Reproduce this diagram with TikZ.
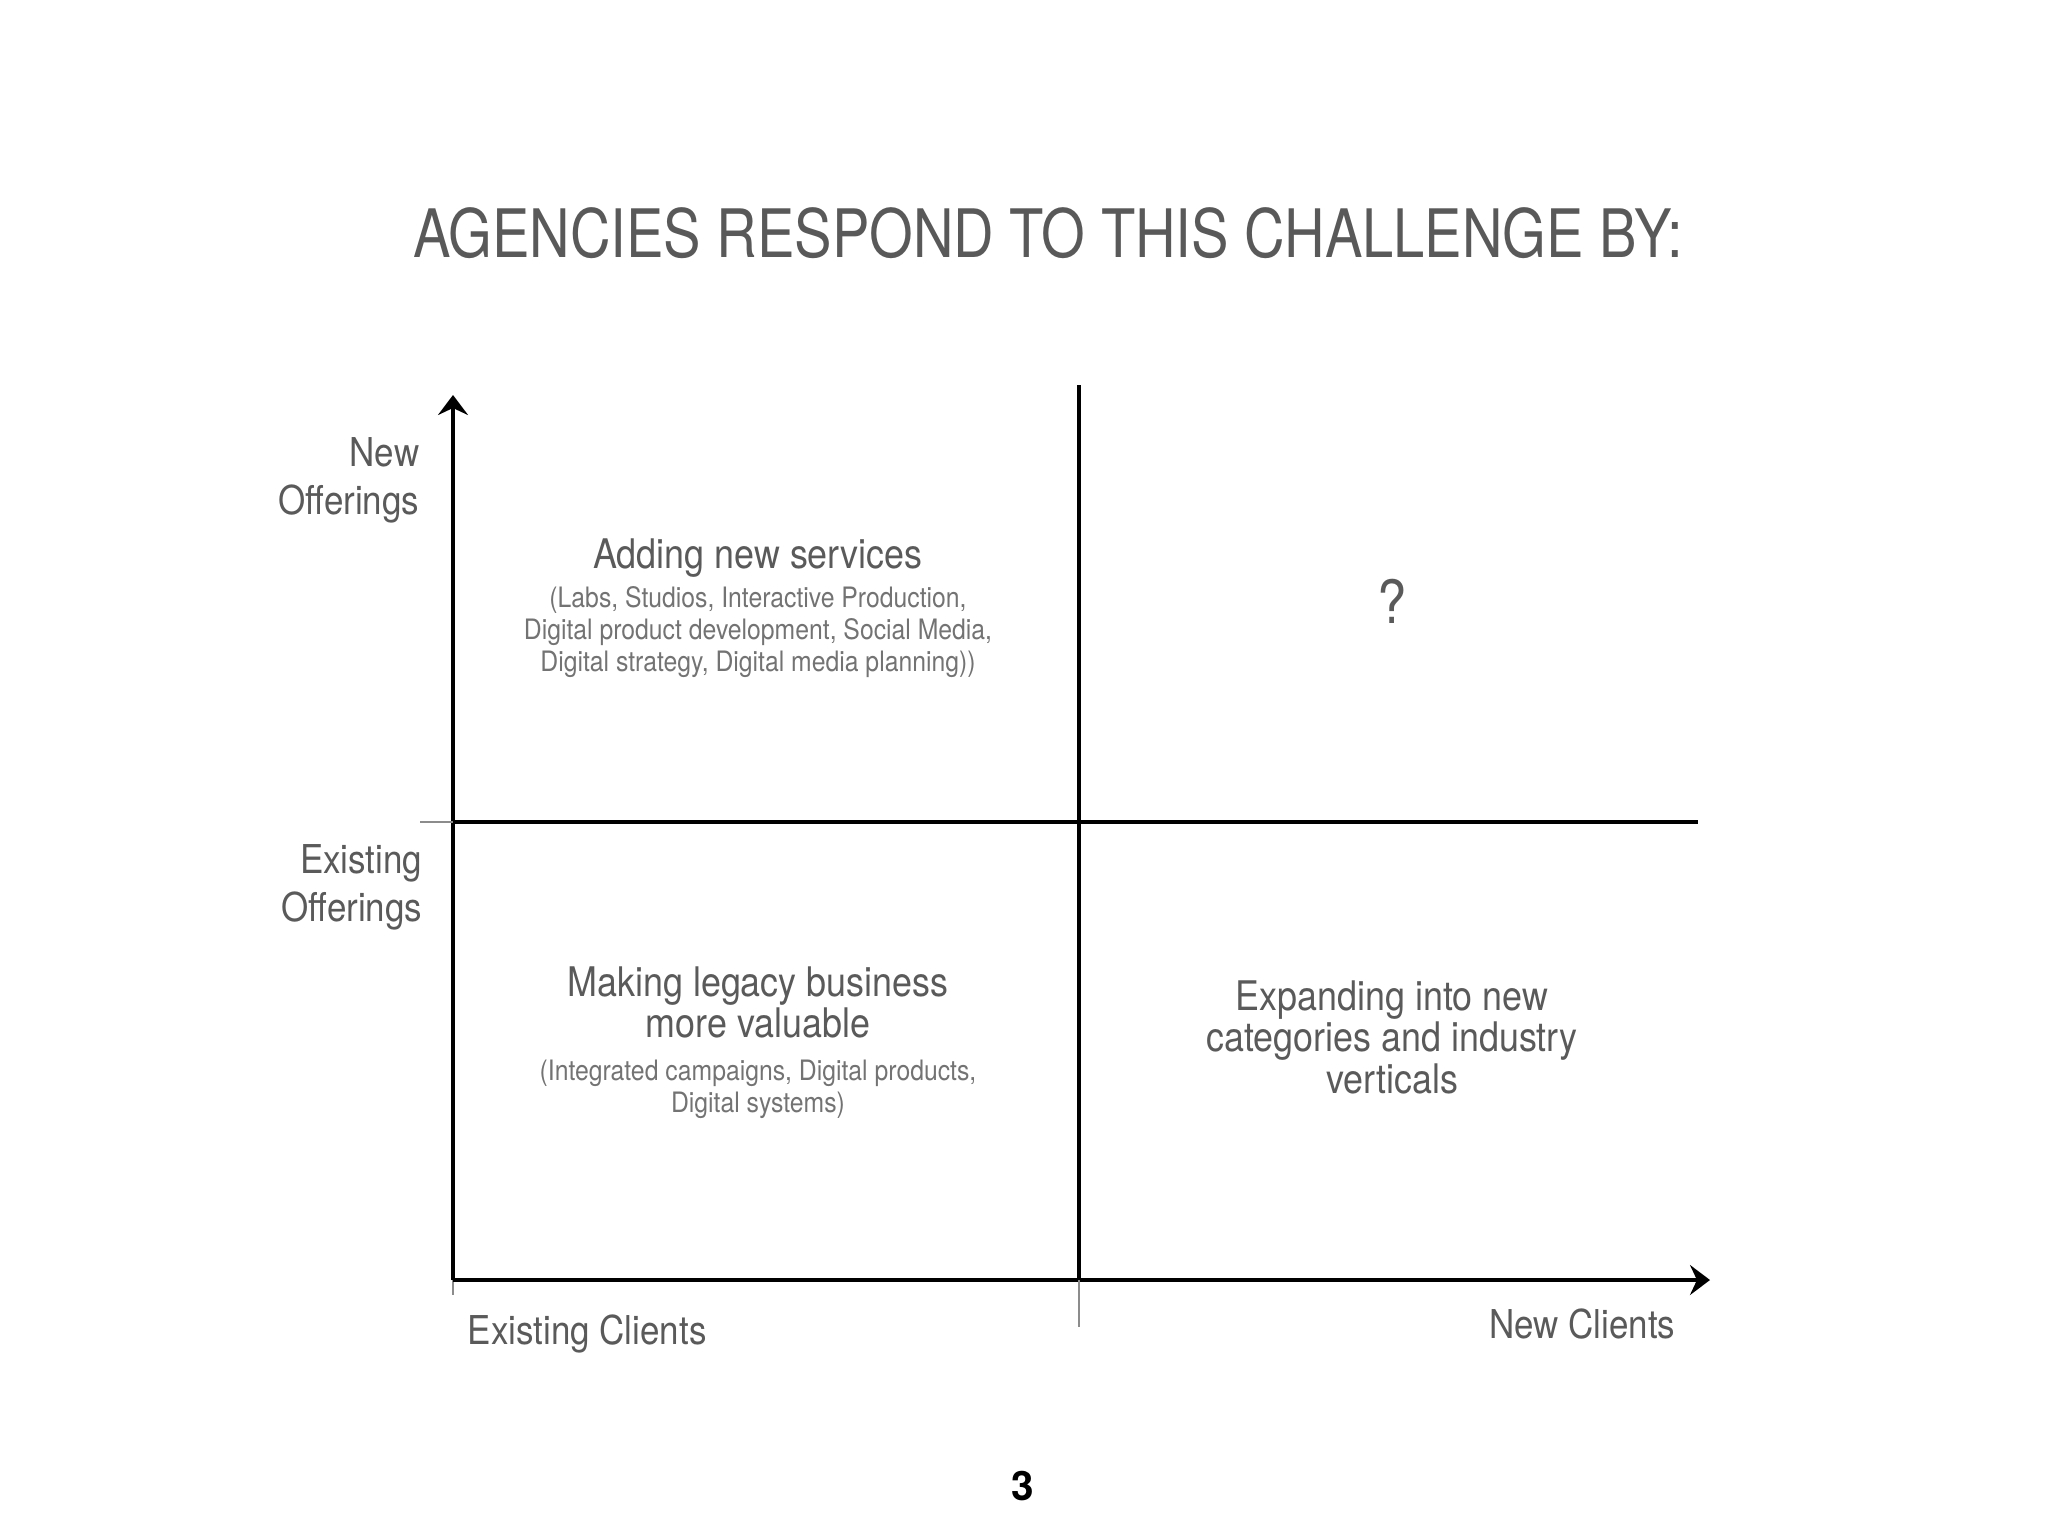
\documentclass[tikz,border=0pt]{standalone}
\usepackage{xcolor}
\usepackage{fontspec}
\usepackage{tikz}
\usetikzlibrary{positioning,arrows.meta}

\setmainfont{TeX Gyre Heros}[FakeStretch=0.88]
\newfontfamily\titlefont{TeX Gyre Heros}[FakeStretch=0.84]
\newfontfamily\pagenumfont{TeX Gyre Heros}

\definecolor{labelgray}{HTML}{5A5A5A}
\definecolor{notegray}{HTML}{737373}

\begin{document}
\begin{tikzpicture}[x=0.01cm, y=-0.01cm,
        axis/.style={line width=1.1pt, black},
        faint/.style={line width=0.35pt, black!45},
        tip/.style={-{Stealth[length=0.2cm, width=0.3cm, inset=0.07cm]}},
        lbl/.style={inner sep=0pt, text=labelgray, font=\fontsize{11.3}{13.7}\selectfont},
        quad/.style={inner sep=0pt, text=labelgray, align=center, font=\fontsize{11.6}{11.8}\selectfont},
        note/.style={inner sep=0pt, text=notegray, align=center, font=\fontsize{8}{9.1}\selectfont}]
        \useasboundingbox (0,0) rectangle (2048,1536);

        % Axes and grid points
        \coordinate (o) at (453,1280);
        \coordinate (ytip) at (453,395);
        \coordinate (ybot) at (453,1295);
        \coordinate (xtip) at (1710,1280);
        \coordinate (mtop) at (1079,385);
        \coordinate (mmid) at (1079,1280);
        \coordinate (mbot) at (1079,1327);
        \coordinate (hl) at (420,822);
        \coordinate (hm) at (453,822);
        \coordinate (hr) at (1698,822);

        % Title
        \node [inner sep=0pt, anchor=base, text=black!65, font=\titlefont\fontsize{19}{22}\selectfont] (title) at (1048,257) {AGENCIES RESPOND TO THIS CHALLENGE BY:};

        % Axis labels
        \node [lbl, align=right, anchor=north east] (newoff) at (420,437) {New\\Offerings};
        \node [lbl, align=right, anchor=north east] (exoff) at (423,844) {Existing\\Offerings};
        \node [lbl, anchor=base west] (exclients) at (467,1344) {Existing Clients};
        \node [lbl, anchor=base east] (newclients) at (1676,1338) {New Clients};

        % Quadrants
        \node [quad, anchor=base] (adding) at (758,568) {Adding new services};
        \node [note, anchor=north, below=0.08cm of adding] (addnote) {(Labs, Studios, Interactive Production,\\Digital product development, Social Media,\\Digital strategy, Digital media planning))};
        \node [inner sep=0pt, anchor=base, text=labelgray, font=\fontsize{17}{20}\selectfont] (unknown) at (1392,623) {?};
        \node [quad, anchor=north] (legacy) at (758,966) {Making legacy business\\more valuable};
        \node [note, anchor=north, below=0.2cm of legacy] (legacynote) {(Integrated campaigns, Digital products,\\Digital systems)};
        \node [quad, anchor=north] (expand) at (1392,980) {Expanding into new\\categories and industry\\verticals};

        % Page number
        \node [inner sep=0pt, anchor=base, font=\pagenumfont\bfseries\fontsize{11.5}{13}\selectfont] (pagenum) at (1023,1500) {3};

        % Lines
        \draw [axis, tip] (o) -- (ytip);
        \draw [faint] (o) -- (ybot);
        \draw [axis, tip] (o) -- (xtip);
        \draw [axis] (mtop) -- (mmid);
        \draw [faint] (mmid) -- (mbot);
        \draw [faint] (hl) -- (hm);
        \draw [axis, line width=0.9pt] (hm) -- (hr);
\end{tikzpicture}
\end{document}
